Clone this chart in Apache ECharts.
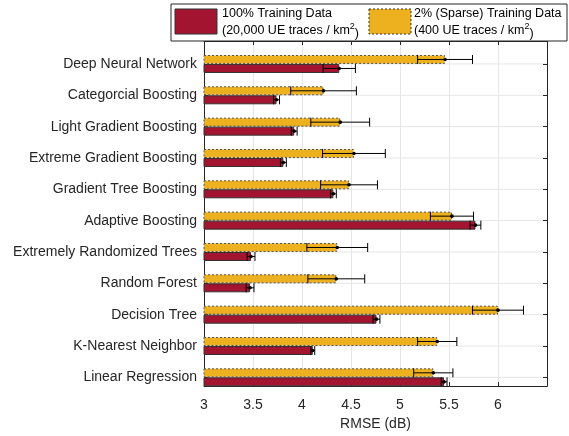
<!DOCTYPE html>
<html><head><meta charset="utf-8">
<script src="https://cdn.jsdelivr.net/npm/echarts@6/dist/echarts.min.js"></script>
<style>html,body{margin:0;padding:0;background:#fff}#c{width:569px;height:436px}</style>
</head><body><div id="c"></div>
<script>
// categories bottom -> top
var categories = ['Linear Regression','K-Nearest Neighbor','Decision Tree','Random Forest','Extremely Randomized Trees','Adaptive Boosting','Gradient Tree Boosting','Extreme Gradient Boosting','Light Gradient Boosting','Categorcial Boosting','Deep Neural Network'];
var full100 = [5.45, 4.11, 4.76, 3.47, 3.48, 5.77, 4.32, 3.81, 3.92, 3.74, 4.38];
var full100Err = [0.03, 0.02, 0.035, 0.04, 0.04, 0.055, 0.03, 0.03, 0.03, 0.03, 0.165];
var sparse2 = [5.34, 5.38, 6.00, 4.35, 4.36, 5.53, 4.48, 4.53, 4.39, 4.22, 5.46];
var sparse2Err = [0.20, 0.20, 0.26, 0.29, 0.31, 0.22, 0.29, 0.32, 0.30, 0.335, 0.28];
var xMin = 3, xMax = 6.5, xStep = 0.5;
var xTickLabels = ['3','3.5','4','4.5','5','5.5','6'];
var legendLines = ['100% Training Data', '(20,000 UE traces / km{s|2}{n|)}', '2% (Sparse) Training Data', '(400 UE traces / km{s|2}{n|)}'];
var xName = 'RMSE (dB)';

var RED = '#A2142F', YEL = '#EDB120', TXT = '#262626', FONT = 'Liberation Sans, Arial, sans-serif';
var chart = echarts.init(document.getElementById('c'), null, {renderer: 'canvas'});

function errData(vals, errs) { return vals.map(function (v, i) { return [i, v, errs[i]]; }); }
function errRender(off) {
  return function (params, api) {
    var cat = api.value(0), m = api.value(1), e = api.value(2);
    var c = api.coord([m, cat]), l = api.coord([m - e, cat]), r = api.coord([m + e, cat]);
    var y = c[1] + off, h = 4.5;
    var st = {stroke: '#000', lineWidth: 1};
    return {type: 'group', children: [
      {type: 'line', shape: {x1: l[0], y1: y, x2: r[0], y2: y}, style: st},
      {type: 'line', shape: {x1: l[0], y1: y - h, x2: l[0], y2: y + h}, style: st},
      {type: 'line', shape: {x1: r[0], y1: y - h, x2: r[0], y2: y + h}, style: st},
      {type: 'circle', shape: {cx: c[0], cy: y, r: 1.8}, style: {fill: '#000'}}
    ]};
  };
}
var richSup = {
  n: {fontSize: 12.5, lineHeight: 18, verticalAlign: 'bottom', fill: '#000', fontFamily: FONT},
  s: {fontSize: 9, lineHeight: 9, verticalAlign: 'top', fill: '#000', fontFamily: FONT}
};

var option = {
  animation: false,
  textStyle: {fontFamily: FONT},
  grid: [
    {left: 204, right: 22, top: 41, bottom: 43},
    {left: 204, right: 22, top: 48.3, bottom: 43}
  ],
  xAxis: [
    {gridIndex: 0, type: 'value', position: 'bottom', min: xMin, max: xMax, interval: xStep,
     axisLine: {show: true, onZero: false, lineStyle: {color: '#262626'}},
     axisTick: {show: true, inside: true, length: 4, lineStyle: {color: '#262626'}},
     axisLabel: {color: TXT, fontSize: 14, margin: 12, fontFamily: FONT,
       formatter: function (v) { var i = Math.round((v - xMin) / xStep); return xTickLabels[i] || ''; }},
     splitLine: {show: true, lineStyle: {color: '#e6e6e6', width: 1}},
     name: xName, nameLocation: 'middle', nameGap: 29,
     nameTextStyle: {color: TXT, fontSize: 14, fontFamily: FONT}},
    {gridIndex: 0, type: 'value', position: 'top', min: xMin, max: xMax, interval: xStep,
     axisLine: {show: true, onZero: false, lineStyle: {color: '#262626'}},
     axisTick: {show: true, inside: true, length: 4, lineStyle: {color: '#262626'}},
     axisLabel: {show: false}, splitLine: {show: false}},
    {gridIndex: 1, type: 'value', min: xMin, max: xMax, show: false}
  ],
  yAxis: [
    {gridIndex: 0, type: 'value', min: 0, max: 1, position: 'left',
     axisLine: {show: true, lineStyle: {color: '#262626'}}, axisTick: {show: false}, axisLabel: {show: false}, splitLine: {show: false}},
    {gridIndex: 0, type: 'value', min: 0, max: 1, position: 'right',
     axisLine: {show: true, lineStyle: {color: '#262626'}}, axisTick: {show: false}, axisLabel: {show: false}, splitLine: {show: false}},
    {gridIndex: 1, type: 'category', data: categories, position: 'left',
     axisLine: {show: false}, axisTick: {show: true, inside: true, alignWithLabel: true, length: 4, lineStyle: {color: '#262626'}},
     axisLabel: {color: TXT, fontSize: 14, margin: 7, fontFamily: FONT}, splitLine: {show: false}},
    {gridIndex: 1, type: 'category', data: categories, position: 'right',
     axisLine: {show: false}, axisTick: {show: true, inside: true, alignWithLabel: true, length: 4, lineStyle: {color: '#262626'}},
     axisLabel: {show: false}, splitLine: {show: false}}
  ],
  series: [
    {type: 'custom', name: 'hgrid', xAxisIndex: 2, yAxisIndex: 2, z: 0, silent: true,
     data: categories.map(function (c, i) { return [i]; }),
     renderItem: function (params, api) {
       var a = api.coord([xMin, api.value(0)]), b = api.coord([xMax, api.value(0)]);
       return {type: 'line', shape: {x1: a[0], y1: a[1], x2: b[0], y2: b[1]}, style: {stroke: '#e6e6e6', lineWidth: 1}};
     }},
    {type: 'bar', name: '2%', xAxisIndex: 2, yAxisIndex: 2, data: sparse2, barWidth: 9, barGap: '0%', z: 2,
     itemStyle: {color: YEL, borderColor: '#555', borderWidth: 1, borderType: [2, 2]}},
    {type: 'bar', name: '100%', xAxisIndex: 2, yAxisIndex: 2, data: full100, barWidth: 9, barGap: '0%', z: 2,
     itemStyle: {color: RED, borderColor: '#333', borderWidth: 1}},
    {type: 'custom', name: 'err100', xAxisIndex: 2, yAxisIndex: 2, z: 3, data: errData(full100, full100Err), renderItem: errRender(4.5)},
    {type: 'custom', name: 'err2', xAxisIndex: 2, yAxisIndex: 2, z: 3, data: errData(sparse2, sparse2Err), renderItem: errRender(-4.5)}
  ],
  graphic: [
    {type: 'rect', z: 100, shape: {x: 171, y: 4, width: 396, height: 37}, style: {fill: '#fff', stroke: '#262626', lineWidth: 1}},
    {type: 'rect', z: 101, shape: {x: 175, y: 9, width: 42, height: 25}, style: {fill: RED, stroke: '#333', lineWidth: 1}},
    {type: 'rect', z: 101, shape: {x: 369, y: 9, width: 42, height: 25}, style: {fill: YEL, stroke: '#333', lineWidth: 1, lineDash: [2, 2]}},
    {type: 'text', z: 101, x: 222, y: 14, style: {text: legendLines[0], fill: '#000', font: '12.5px ' + FONT, verticalAlign: 'middle'}},
    {type: 'text', z: 101, x: 222, y: 31, style: {text: legendLines[1], fill: '#000', fontFamily: FONT, fontSize: 12.5, lineHeight: 18, verticalAlign: 'middle', rich: richSup}},
    {type: 'text', z: 101, x: 414, y: 14, style: {text: legendLines[2], fill: '#000', font: '12.5px ' + FONT, verticalAlign: 'middle'}},
    {type: 'text', z: 101, x: 414, y: 31, style: {text: legendLines[3], fill: '#000', fontFamily: FONT, fontSize: 12.5, lineHeight: 18, verticalAlign: 'middle', rich: richSup}}
  ]
};
chart.setOption(option);
</script></body></html>
